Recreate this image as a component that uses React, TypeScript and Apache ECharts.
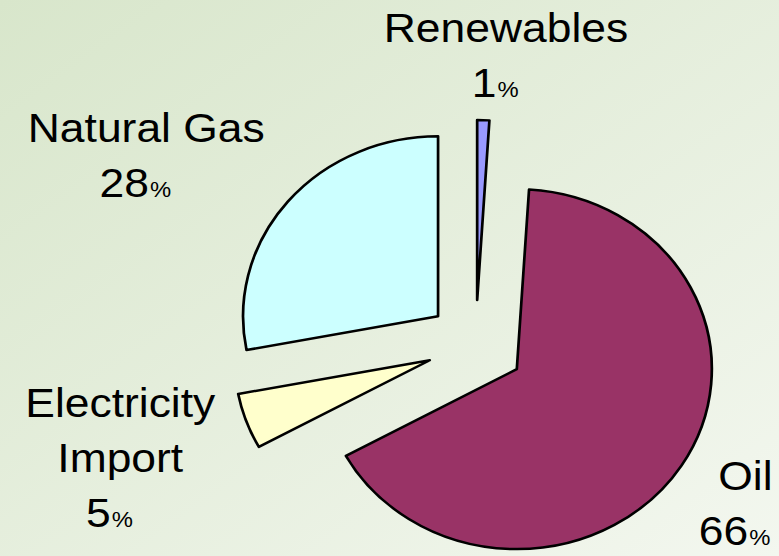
import React, { useEffect, useRef } from "react";
import * as echarts from "echarts";

const categories = ["Renewables", "Oil", "Electricity\nImport", "Natural Gas"];
const shares = [1, 66, 5, 28];
const sliceColors = ["#9999FF", "#993366", "#FFFFCC", "#CCFFFF"];
// label anchor positions (chart px, unscaled), centre-x / top-y
const labelX = [467, 688, 111, 135];
const labelY = [0, 448, 375, 100];

const STRETCH = 779 / 719;
const FONT = "'Liberation Sans', Arial, sans-serif";

export default function App() {
  const ref = useRef<HTMLDivElement>(null);
  useEffect(() => {
    if (!ref.current) return;
    const chart = echarts.init(ref.current, undefined, { renderer: "svg" });
    const total = shares.reduce((a, b) => a + b, 0);
    const rich = {
      n: { fontSize: 41, lineHeight: 55, fontFamily: FONT, fill: "#000" },
      v: { fontSize: 41, lineHeight: 55, fontFamily: FONT, fill: "#000" },
      p: { fontSize: 22, lineHeight: 20, fontFamily: FONT, fill: "#000", padding: [14, 20, 0, 1] },
    };
    chart.setOption({
      animation: false,
      backgroundColor: new echarts.graphic.LinearGradient(0, 0, 1, 1, [
        { offset: 0, color: "#d8e6cb" },
        { offset: 1, color: "#f3f7ef" },
      ]),
      graphic: categories.map((name, i) => ({
        type: "text",
        x: labelX[i],
        y: labelY[i],
        z: 10,
        style: {
          text:
            name
              .split("\n")
              .map((s) => `{n|${s}}`)
              .join("\n") + `\n{v|${Math.round((shares[i] / total) * 100)}}{p|%}`,
          rich,
          align: "center",
          verticalAlign: "top",
          textAlign: "center",
          textVerticalAlign: "top",
          fontFamily: FONT,
          fontSize: 41,
          fill: "#000",
        },
      })),
      series: [
        {
          type: "pie",
          center: [439, 345],
          radius: [0, 180],
          startAngle: 90,
          clockwise: true,
          selectedMode: "multiple",
          selectedOffset: 45,
          avoidLabelOverlap: false,
          emphasis: { disabled: true },
          itemStyle: { borderColor: "#000", borderWidth: 2.5 },
          select: { itemStyle: { borderColor: "#000", borderWidth: 2.5 } },
          label: { show: false },
          labelLine: { show: false },
          data: categories.map((name, i) => ({
            name,
            value: shares[i],
            selected: true,
            itemStyle: { color: sliceColors[i] },
            select: { itemStyle: { color: sliceColors[i] } },
          })),
        },
      ],
    });
    return () => chart.dispose();
  }, []);
  return (
    <div
      ref={ref}
      style={{
        position: "absolute",
        left: 0,
        top: 0,
        width: 719,
        height: 556,
        transform: `scaleX(${STRETCH})`,
        transformOrigin: "0 0",
      }}
    />
  );
}
